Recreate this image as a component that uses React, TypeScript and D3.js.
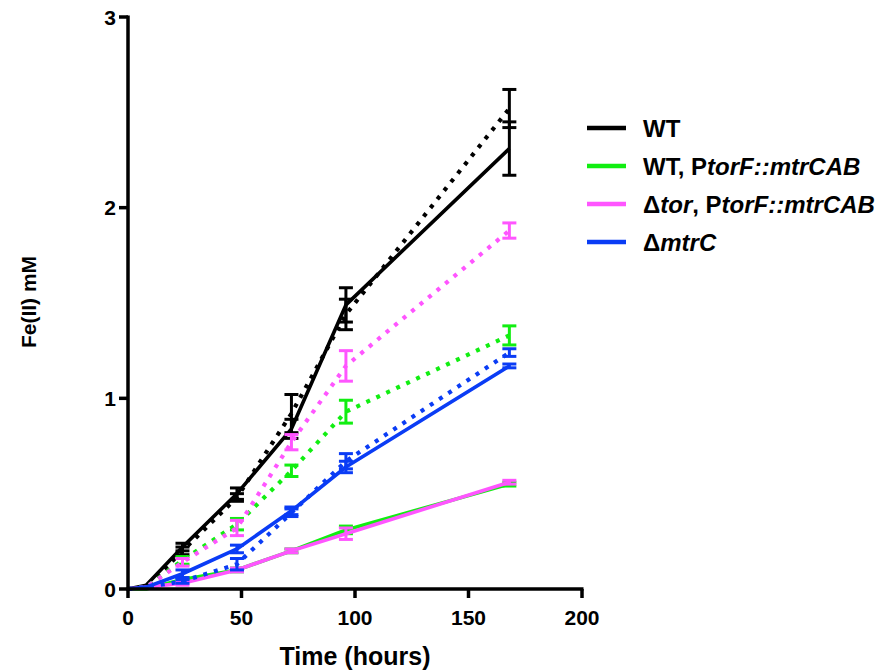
import React from "react";
import * as d3 from "d3";

// ---- data ----
const times = [0, 8, 24, 48, 72, 96, 168];

const wtSolid = [0, 0.02, 0.22, 0.5, 0.84, 1.49, 2.31];
const wtSolidErr = [0, 0.01, 0.02, 0.03, 0.05, 0.09, 0.14];
const wtDotted = [0, 0.01, 0.2, 0.48, 0.92, 1.44, 2.52];
const wtDottedErr = [0, 0.01, 0.02, 0.02, 0.1, 0.08, 0.1];

const greenSolid = [0, 0.0, 0.05, 0.1, 0.2, 0.31, 0.55];
const greenSolidErr = [0, 0, 0.01, 0.01, 0.01, 0.02, 0.01];
const greenDotted = [0, 0.01, 0.15, 0.34, 0.62, 0.93, 1.33];
const greenDottedErr = [0, 0, 0.02, 0.03, 0.03, 0.06, 0.05];

const pinkSolid = [0, 0.01, 0.03, 0.1, 0.2, 0.29, 0.56];
const pinkSolidErr = [0, 0, 0.01, 0.01, 0.01, 0.03, 0.01];
const pinkDotted = [0, 0.01, 0.14, 0.32, 0.77, 1.17, 1.88];
const pinkDottedErr = [0, 0, 0.02, 0.04, 0.04, 0.08, 0.04];

const blueSolid = [0, 0.01, 0.08, 0.21, 0.41, 0.64, 1.17];
const blueSolidErr = [0, 0, 0.02, 0.02, 0.02, 0.03, 0.01];
const blueDotted = [0, 0.01, 0.04, 0.13, 0.4, 0.67, 1.24];
const blueDottedErr = [0, 0, 0.01, 0.03, 0.02, 0.04, 0.02];

const xTicks = [0, 50, 100, 150, 200];
const yTicks = [0, 1, 2, 3];

const colors = { wt: "#000000", green: "#11ee11", pink: "#ff55ff", blue: "#0a3cf5" };

const series = [
  { v: wtSolid, e: wtSolidErr, c: colors.wt, dotted: false },
  { v: wtDotted, e: wtDottedErr, c: colors.wt, dotted: true },
  { v: greenSolid, e: greenSolidErr, c: colors.green, dotted: false },
  { v: greenDotted, e: greenDottedErr, c: colors.green, dotted: true },
  { v: pinkSolid, e: pinkSolidErr, c: colors.pink, dotted: false },
  { v: pinkDotted, e: pinkDottedErr, c: colors.pink, dotted: true },
  { v: blueSolid, e: blueSolidErr, c: colors.blue, dotted: false },
  { v: blueDotted, e: blueDottedErr, c: colors.blue, dotted: true },
];

const legendItems = [
  { c: colors.wt, parts: [{ t: "WT", i: false }] },
  { c: colors.green, parts: [{ t: "WT, P", i: false }, { t: "torF::mtrCAB", i: true }] },
  { c: colors.pink, parts: [{ t: "Δ", i: false }, { t: "tor", i: true }, { t: ", P", i: false }, { t: "torF::mtrCAB", i: true }] },
  { c: colors.blue, parts: [{ t: "Δ", i: false }, { t: "mtrC", i: true }] },
];

const FONT = "'Liberation Sans', Arial, Helvetica, sans-serif";

export default function App() {
  const x = d3.scaleLinear().domain([0, 200]).range([128, 582]);
  const y = d3.scaleLinear().domain([0, 3]).range([589, 17]);
  const line = d3
    .line<number>()
    .x((_, i) => x(times[i]))
    .y((d) => y(d));

  return (
    <svg
      width={878}
      height={671}
      style={{ position: "absolute", left: 0, top: 0, background: "#fff" }}
      fontFamily={FONT}
      fontWeight="bold"
    >
      <rect width={878} height={671} fill="#fff" />
      {/* data */}
      {series.map((s, si) => (
        <g key={si}>
          <path
            d={line(s.v) || ""}
            fill="none"
            stroke={s.c}
            strokeWidth={s.dotted ? 4.2 : 3.6}
            strokeDasharray={s.dotted ? "4 7" : undefined}
            strokeLinejoin="round"
          />
          {s.v.map((v, i) =>
            s.e[i] > 0.005 && times[i] > 10 ? (
              <g key={i} stroke={s.c} strokeWidth={3}>
                <line x1={x(times[i])} x2={x(times[i])} y1={y(v + s.e[i])} y2={y(v - s.e[i])} />
                <line x1={x(times[i]) - 7} x2={x(times[i]) + 7} y1={y(v + s.e[i])} y2={y(v + s.e[i])} />
                <line x1={x(times[i]) - 7} x2={x(times[i]) + 7} y1={y(v - s.e[i])} y2={y(v - s.e[i])} />
              </g>
            ) : null
          )}
        </g>
      ))}

      {/* axes */}
      <g stroke="#000" strokeWidth={3.5}>
        <line x1={x(0)} x2={x(0)} y1={y(3) - 1.5} y2={y(0) + 1.5} />
        <line x1={x(0) - 1.5} x2={x(200) + 1.5} y1={y(0)} y2={y(0)} />
        {yTicks.map((t) => (
          <line key={"yt" + t} x1={x(0) - 9} x2={x(0)} y1={y(t)} y2={y(t)} />
        ))}
        {xTicks.map((t) => (
          <line key={"xt" + t} x1={x(t)} x2={x(t)} y1={y(0)} y2={y(0) + 9} />
        ))}
      </g>
      {yTicks.map((t) => (
        <text key={"yl" + t} x={x(0) - 12} y={y(t)} dy="0.36em" textAnchor="end" fontSize={21}>
          {t}
        </text>
      ))}
      {xTicks.map((t) => (
        <text key={"xl" + t} x={x(t)} y={y(0) + 36} textAnchor="middle" fontSize={21}>
          {t}
        </text>
      ))}
      <text x={355} y={665} textAnchor="middle" fontSize={25}>
        Time (hours)
      </text>
      <text transform="translate(36,302) rotate(-90)" textAnchor="middle" fontSize={21}>
        Fe(II) mM
      </text>

      {/* legend */}
      {legendItems.map((it, i) => {
        const ly = 128 + i * 38;
        return (
          <g key={"lg" + i}>
            <line x1={587} x2={626} y1={ly} y2={ly} stroke={it.c} strokeWidth={4.5} />
            <text x={643} y={ly} dy="0.36em" fontSize={24}>
              {it.parts.map((p, j) => (
                <tspan key={j} fontStyle={p.i ? "italic" : "normal"}>
                  {p.t}
                </tspan>
              ))}
            </text>
          </g>
        );
      })}
    </svg>
  );
}
